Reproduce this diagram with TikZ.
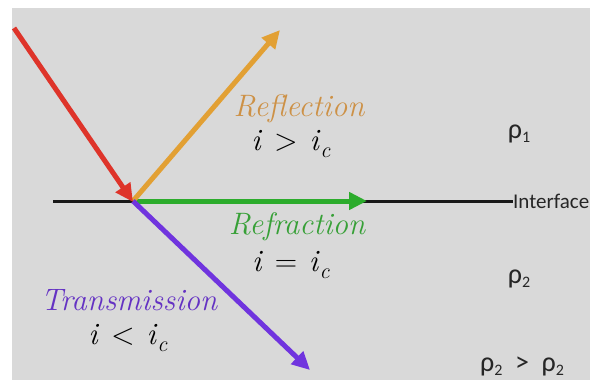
\documentclass[tikz,border=0pt]{standalone}
\usepackage{fontspec}
\newfontfamily\labfont{Carlito}
\usetikzlibrary{arrows.meta}
\definecolor{bggray}{RGB}{217,217,217}
\definecolor{rayred}{RGB}{222,52,42}
\definecolor{rayorange}{RGB}{226,160,52}
\definecolor{raygreen}{RGB}{44,172,44}
\definecolor{raypurple}{RGB}{112,52,222}
\definecolor{txtorange}{RGB}{205,145,70}
\definecolor{txtgreen}{RGB}{55,160,55}
\definecolor{txtpurple}{RGB}{100,50,195}
\newcommand{\ic}{\textit{i}\raisebox{-0.25em}{\fontsize{22}{24}\selectfont\textit{c}}}
\newcommand{\rsub}[1]{\raisebox{-0.15em}{\fontsize{16}{18}\selectfont #1}}
\begin{document}
\begin{tikzpicture}[x=1pt,y=-1pt,
  ray/.style={line width=5pt,-{Triangle[length=18pt,width=17pt]}},
  bigit/.style={font=\rmfamily\itshape\fontsize{31}{34}\selectfont},
  cond/.style={font=\rmfamily\fontsize{31}{34}\selectfont, text=black},
  rho/.style={font=\labfont\fontsize{28}{30}\selectfont, text=black!85}]
\useasboundingbox (0,0) rectangle (590,380);
\fill[white] (0,0) rectangle (590,380);
\fill[bggray] (12,8) rectangle (590,380);
% points
\coordinate (O) at (133,201);
\coordinate (L) at (53,201);
\coordinate (S) at (14,28);
\coordinate (Rf) at (280,30);
\coordinate (Rr) at (367,201);
\coordinate (T) at (310,370);
\node[font=\labfont\fontsize{21}{23}\selectfont, text=black!85, anchor=west, inner sep=0pt] (itf) at (513,201) {Interface};
% interface line
\draw[line width=3pt, black!90] (L) -- (itf.west);
% rays
\draw[ray, raygreen] (O) -- (Rr);
\draw[ray, rayorange] (O) -- (Rf);
\draw[ray, raypurple] (O) -- (T);
\draw[ray, rayred] (S) -- ([yshift=-1pt]O);
% labels
\node[bigit, text=txtorange] (refl) at (299,109) {Reflection};
\node[cond] (c1) at (291,144) {\textit{i}\hspace{0.38em}>\hspace{0.38em}\ic};
\node[bigit, text=txtgreen] (refr) at (297,227) {Refraction};
\node[cond] (c2) at (291,265) {\textit{i}\hspace{0.38em}=\hspace{0.38em}\ic};
\node[bigit, text=txtpurple] (trans) at (129,300) {Transmission};
\node[cond] (c3) at (128,338) {\textit{i}\hspace{0.38em}<\hspace{0.38em}\ic};
\node[rho] (r1) at (519,134) {ρ\rsub{1}};
\node[rho] (r2) at (519,279) {ρ\rsub{2}};
\node[rho] (r3) at (522,366) {ρ\rsub{2}\hspace{0.45em}>\hspace{0.45em}ρ\rsub{2}};
\end{tikzpicture}
\end{document}
